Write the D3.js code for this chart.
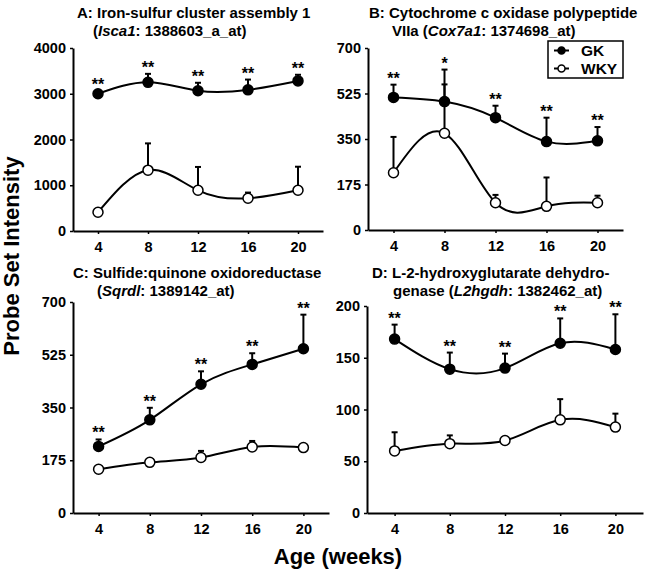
<!DOCTYPE html>
<html>
<head>
<meta charset="utf-8">
<script src="https://cdn.jsdelivr.net/npm/d3@7"></script>
<style>
  body { margin: 0; background: #fff; }
  svg { display: block; }
  text { font-family: "Liberation Sans", Arial, sans-serif; font-weight: bold; fill: #000; }
</style>
</head>
<body>
<svg id="chart" width="647" height="575"></svg>
<script>
// ---- Data ----
const ages = [4, 8, 12, 16, 20];
const xTickLabels = ["4", "8", "12", "16", "20"];

// Panel A: Isca1
const iscaGK = [3000, 3250, 3065, 3085, 3280];
const iscaGKErr = [50, 185, 175, 225, 135];
const iscaWKY = [410, 1330, 890, 715, 890];
const iscaWKYErr = [30, 585, 510, 125, 515];
const iscaStars = ["**", "**", "**", "**", "**"];
const iscaTicks = [0, 1000, 2000, 3000, 4000];

// Panel B: Cox7a1
const coxGK = [510, 494, 432, 340, 343];
const coxGKErr = [49, 123, 46, 92, 53];
const coxWKY = [220, 372, 105, 91, 105];
const coxWKYErr = [138, 188, 30, 111, 27];
const coxStars = ["**", "*", "**", "**", "**"];
const coxTicks = [0, 175, 350, 525, 700];

// Panel C: Sqrdl
const sqrGK = [221, 309, 427, 493, 545];
const sqrGKErr = [23, 40, 43, 37, 113];
const sqrWKY = [145, 168, 184, 219, 217];
const sqrWKYErr = [4, 4, 22, 20, 3];
const sqrStars = ["**", "**", "**", "**", "**"];
const sqrTicks = [0, 175, 350, 525, 700];

// Panel D: L2hgdh
const l2GK = [168, 139, 140, 164, 158];
const l2GKErr = [14, 16, 14, 24, 34];
const l2WKY = [60, 67, 70, 90, 83];
const l2WKYErr = [18, 8, 3, 20, 13];
const l2Stars = ["**", "**", "**", "**", "**"];
const l2Ticks = [0, 50, 100, 150, 200];

const seriesNames = ["GK", "WKY"];

// ---- Layout ----
const panels = [
  { gk: iscaGK, gkErr: iscaGKErr, wky: iscaWKY, wkyErr: iscaWKYErr, stars: iscaStars, ticks: iscaTicks,
    x0: 73, x1: 323, yTop: 48, yBot: 231,
    title: [{x: 77, y: 18, parts: [["A: Iron-sulfur cluster assembly 1", false]]},
            {x: 93, y: 36, parts: [["(", false], ["Isca1", true], [": 1388603_a_at)", false]]}] },
  { gk: coxGK, gkErr: coxGKErr, wky: coxWKY, wkyErr: coxWKYErr, stars: coxStars, ticks: coxTicks,
    x0: 368, x1: 623, yTop: 48, yBot: 230, legend: true,
    title: [{x: 369, y: 18, parts: [["B: Cytochrome c oxidase polypeptide", false]]},
            {x: 392, y: 36, parts: [["VIIa (", false], ["Cox7a1", true], [": 1374698_at)", false]]}] },
  { gk: sqrGK, gkErr: sqrGKErr, wky: sqrWKY, wkyErr: sqrWKYErr, stars: sqrStars, ticks: sqrTicks,
    x0: 73, x1: 329, yTop: 302, yBot: 513,
    title: [{x: 73, y: 278, parts: [["C: Sulfide:quinone oxidoreductase", false]]},
            {x: 97, y: 296, parts: [["(", false], ["Sqrdl", true], [": 1389142_at)", false]]}] },
  { gk: l2GK, gkErr: l2GKErr, wky: l2WKY, wkyErr: l2WKYErr, stars: l2Stars, ticks: l2Ticks,
    x0: 367, x1: 643, yTop: 306, yBot: 513,
    title: [{x: 372, y: 278, parts: [["D: L-2-hydroxyglutarate dehydro-", false]]},
            {x: 393, y: 296, parts: [["genase (", false], ["L2hgdh", true], [": 1382462_at)", false]]}] }
];

const svg = d3.select("#chart");

panels.forEach(p => {
  const g = svg.append("g");
  const x = d3.scaleLinear().domain([2, 22]).range([p.x0, p.x1]);
  const y = d3.scaleLinear().domain([0, d3.max(p.ticks)]).range([p.yBot, p.yTop]);

  // titles
  p.title.forEach(t => {
    const tx = g.append("text").attr("x", t.x).attr("y", t.y).style("font-size", "15px");
    t.parts.forEach(([s, it]) => {
      tx.append("tspan").text(s).style("font-style", it ? "italic" : "normal");
    });
  });

  // axes
  const xAxis = d3.axisBottom(x).tickValues(ages).tickFormat((d, i) => xTickLabels[i])
    .tickSizeInner(3).tickSizeOuter(0).tickPadding(8);
  const gx = g.append("g").attr("transform", `translate(0,${p.yBot})`).call(xAxis);
  const yAxis = d3.axisLeft(y).tickValues(p.ticks).tickFormat(d3.format("d"))
    .tickSizeInner(3).tickSizeOuter(0).tickPadding(4);
  const gy = g.append("g").attr("transform", `translate(${p.x0},0)`).call(yAxis);
  [gx, gy].forEach(a => {
    a.select(".domain").attr("stroke", "#000").attr("stroke-width", 2);
    a.selectAll(".tick line").attr("stroke", "#000").attr("stroke-width", 1.5);
    a.selectAll(".tick text").style("font-size", "14.5px").style("font-family", "Liberation Sans, Arial, sans-serif").style("font-weight", "bold").attr("fill", "#000");
  });

  const line = d3.line().x((d, i) => x(ages[i])).y(d => y(d)).curve(d3.curveNatural);

  const series = [
    { vals: p.wky, err: p.wkyErr, fill: "#fff" },
    { vals: p.gk, err: p.gkErr, fill: "#000" }
  ];

  series.forEach(s => {
    // error bars (upper only)
    s.vals.forEach((v, i) => {
      const cx = x(ages[i]);
      g.append("line").attr("x1", cx).attr("x2", cx).attr("y1", y(v)).attr("y2", y(v + s.err[i]))
        .attr("stroke", "#000").attr("stroke-width", 2);
      g.append("line").attr("x1", cx - 3).attr("x2", cx + 3).attr("y1", y(v + s.err[i])).attr("y2", y(v + s.err[i]))
        .attr("stroke", "#000").attr("stroke-width", 2);
    });
    g.append("path").datum(s.vals).attr("d", line).attr("fill", "none")
      .attr("stroke", "#000").attr("stroke-width", 2);
  });
  series.forEach(s => {
    g.selectAll(null).data(s.vals).enter().append("circle")
      .attr("cx", (d, i) => x(ages[i])).attr("cy", d => y(d)).attr("r", 5)
      .attr("fill", s.fill).attr("stroke", "#000").attr("stroke-width", 1.5);
  });

  // significance stars
  g.selectAll(null).data(p.stars).enter().append("text")
    .attr("x", (d, i) => x(ages[i])).attr("y", (d, i) => y(p.gk[i] + p.gkErr[i]) - 1)
    .attr("text-anchor", "middle").style("font-size", "16px").text(d => d);

  if (p.legend) {
    const lg = g.append("g");
    lg.append("rect").attr("x", 548).attr("y", 41).attr("width", 75).attr("height", 37)
      .attr("fill", "#fff").attr("stroke", "#000").attr("stroke-width", 1.5);
    seriesNames.forEach((n, i) => {
      const ly = 50.5 + i * 18;
      lg.append("line").attr("x1", 554).attr("x2", 569).attr("y1", ly).attr("y2", ly)
        .attr("stroke", "#000").attr("stroke-width", 2);
      lg.append("circle").attr("cx", 561.5).attr("cy", ly).attr("r", 3.5)
        .attr("fill", i === 0 ? "#000" : "#fff").attr("stroke", "#000").attr("stroke-width", 1.5);
      lg.append("text").attr("x", 581).attr("y", ly + 5.5).style("font-size", "15.5px").text(n);
    });
  }
});

// shared axis labels
svg.append("text").attr("transform", "translate(19,256) rotate(-90)").attr("text-anchor", "middle")
  .style("font-size", "22px").text("Probe Set Intensity");
svg.append("text").attr("x", 338).attr("y", 564).attr("text-anchor", "middle")
  .style("font-size", "22px").text("Age (weeks)");
</script>
</body>
</html>
